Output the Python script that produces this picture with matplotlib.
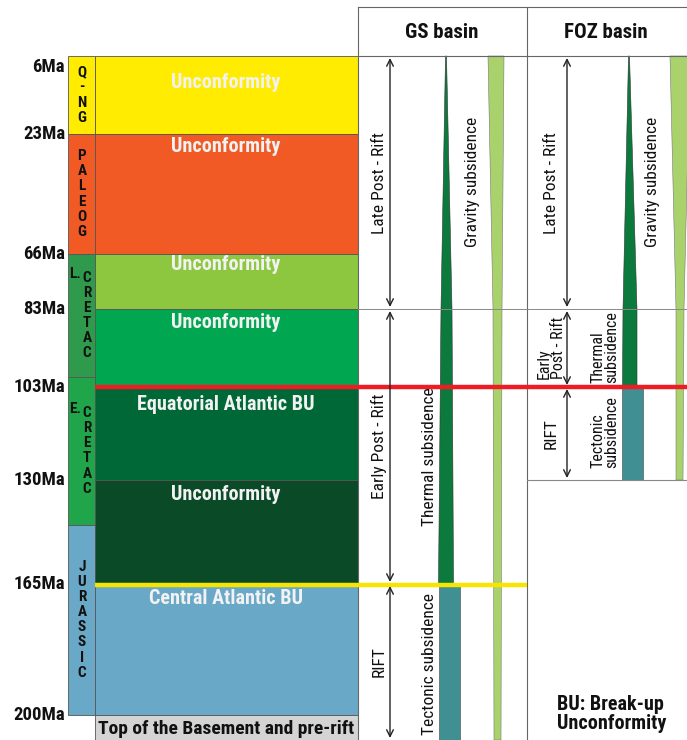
import matplotlib.pyplot as plt
from matplotlib.patches import Rectangle, Polygon
from matplotlib import font_manager
import numpy as np

# pick a narrow sans face (the chart uses an Arial Narrow look)
installed = set(f.name for f in font_manager.fontManager.ttflist)
narrow = [n for n in ['Liberation Sans Narrow', 'Arial Narrow', 'Roboto Condensed',
                      'IBM Plex Sans Condensed', 'Archivo Narrow'] if n in installed]
plt.rcParams['font.family'] = narrow[:1] + ['Liberation Sans', 'DejaVu Sans']

# ages (Ma) and the schematic row each one sits at (chart is not to scale)
ages = [6, 23, 66, 83, 103, 130, 165, 200]
age_rows = [56, 134, 254, 309, 387, 480, 584, 715]
BOTTOM = 740

# stratigraphic units
unit_top = [6, 23, 66, 83, 103, 130, 165]
unit_base = [23, 66, 83, 103, 130, 165, 200]
unit_names = ["Unconformity", "Unconformity", "Unconformity", "Unconformity",
              "Equatorial Atlantic BU", "Unconformity", "Central Atlantic BU"]
unit_colors = ["#ffec00", "#f15a24", "#8dc63f", "#00a650", "#006837", "#0b4a26", "#6aa8c8"]

# periods
period_names = ["Q-NG", "PALEOG", "CRETAC", "CRETAC", "JURASSIC"]
period_prefix = ["", "", "L.", "E.", ""]
period_top = [6, 23, 66, 100.5, 145]
period_base = [23, 66, 100.5, 145, 200]
period_colors = ["#ffec00", "#f15a24", "#2f9a4c", "#21a54b", "#6aa8c8"]

# basins: stages
gs_stages = ["Late Post - Rift", "Early Post - Rift", "RIFT"]
gs_stage_top = [6, 83, 165]
gs_stage_base = [83, 165, None]
foz_stages = ["Late Post - Rift", "Early\nPost - Rift", "RIFT"]
foz_stage_top = [6, 83, 103]
foz_stage_base = [83, 103, 130]


def to_y(a):
    if a is None:
        return BOTTOM
    return float(np.interp(a, ages, age_rows))


fig = plt.figure(figsize=(6.87, 7.40), dpi=100)
ax = fig.add_axes([0, 0, 1, 1])
ax.set_xlim(0, 687)
ax.set_ylim(740, 0)
ax.axis('off')

edge = '#555555'
ink = '#111111'

# ---- period column
lsp = 1.1
for i in range(len(period_names)):
    y0, y1 = to_y(period_top[i]), to_y(period_base[i])
    ax.add_patch(Rectangle((68, y0), 27, y1 - y0, fc=period_colors[i], ec=edge, lw=0.6))
    ym = (y0 + y1) / 2
    letters = "\n".join(period_names[i])
    if period_prefix[i]:
        ax.text(87, ym, letters, ha='center', va='center', fontsize=11,
                fontweight='bold', color=ink, linespacing=lsp)
        ax.text(69, ym - 2.5 * 16.8, period_prefix[i], ha='left', va='center', fontsize=11,
                fontweight='bold', color=ink)
    else:
        ax.text(82, ym, letters, ha='center', va='center', fontsize=11,
                fontweight='bold', color=ink, linespacing=lsp)

# ---- units column
label_pad = [26, 13, 11, 13, 18, 14, 15]
for i in range(len(unit_names)):
    y0, y1 = to_y(unit_top[i]), to_y(unit_base[i])
    ax.add_patch(Rectangle((95, y0), 263, y1 - y0, fc=unit_colors[i], ec=edge, lw=0.6))
    ax.text(226, y0 + label_pad[i], unit_names[i], ha='center', va='center',
            fontsize=14.5, fontweight='bold', color='#f2f2f2')

ax.add_patch(Rectangle((95, to_y(200)), 263, BOTTOM - to_y(200), fc='#d4d4d4', ec=edge, lw=0.6))
ax.text(226, (to_y(200) + BOTTOM) / 2 + 1, "Top of the Basement and pre-rift", ha='center',
        va='center', fontsize=14, fontweight='bold', color=ink)

# age labels
for a in ages:
    if a == ages[0]:
        ax.text(65, to_y(a) + 2, f"{a}Ma", ha='right', va='top', fontsize=13.5,
                fontweight='bold', color=ink)
    else:
        ax.text(65, to_y(a), f"{a}Ma", ha='right', va='center', fontsize=13.5,
                fontweight='bold', color=ink)

# ---- basin frame
ax.plot([358, 687], [7, 7], color='#666666', lw=0.8)
ax.plot([358, 687], [55.5, 55.5], color='#666666', lw=0.8)
ax.plot([358, 358], [7, BOTTOM], color='#666666', lw=0.8)
ax.plot([527, 527], [7, BOTTOM], color='#666666', lw=0.8)
ax.plot([358, 687], [to_y(83), to_y(83)], color='#888888', lw=0.7)
ax.plot([527, 687], [to_y(130), to_y(130)], color='#888888', lw=0.8)
ax.text(442, 33, "GS basin", ha='center', va='center', fontsize=15, fontweight='bold', color=ink)
ax.text(606, 33, "FOZ basin", ha='center', va='center', fontsize=15, fontweight='bold', color=ink)

fs_side = 12.5
fs_small = 11.5


def stage_arrows(x, tops, bases, names, label_x):
    for t, b, n in zip(tops, bases, names):
        y0, y1 = to_y(t), to_y(b)
        ax.annotate('', xy=(x, y0 + 2), xytext=(x, y1 - 2),
                    arrowprops=dict(arrowstyle='<->', color='#222222', lw=1.0,
                                    mutation_scale=12, shrinkA=0, shrinkB=0))
        ax.text(label_x, (y0 + y1) / 2, n, rotation=90, ha='center', va='center',
                fontsize=fs_small if "\n" in n else fs_side, color=ink,
                multialignment='left', linespacing=0.95)


stage_arrows(390, gs_stage_top, gs_stage_base, gs_stages, 379)
stage_arrows(567, foz_stage_top, foz_stage_base, foz_stages, 551)

# ---- subsidence shapes
dkgreen = '#0c7a3c'
ltgreen = '#a9d26d'
teal = '#3f8f93'

# GS thermal wedge
ys = [to_y(6), to_y(83), to_y(165)]
ax.add_patch(Polygon([(445.5, ys[0]), (441, ys[1]), (438.5, ys[2]),
                      (453.5, ys[2]), (452, ys[1]), (446.5, ys[0])],
                     fc=dkgreen, ec='#333333', lw=0.4))
# GS tectonic bar
ax.add_patch(Rectangle((438.5, to_y(165)), 21.5, BOTTOM - to_y(165), fc=teal, ec='#444444', lw=0.4))
# GS gravity wedge
ax.add_patch(Polygon([(488, to_y(6)), (493, to_y(83)), (494, BOTTOM),
                      (501, BOTTOM), (502, to_y(83)), (504, to_y(6))],
                     fc=ltgreen, ec='#777777', lw=0.4))

# FOZ thermal wedge
ax.add_patch(Polygon([(628.5, to_y(6)), (623, to_y(83)), (622.5, to_y(103)),
                      (637, to_y(103)), (637, to_y(83)), (629.5, to_y(6))],
                     fc=dkgreen, ec='#333333', lw=0.4))
# FOZ tectonic bar
ax.add_patch(Rectangle((622, to_y(103)), 21, to_y(130) - to_y(103), fc=teal, ec='#444444', lw=0.4))
# FOZ gravity wedge
ax.add_patch(Polygon([(670, to_y(6)), (676, to_y(83)), (676, to_y(130)),
                      (683, to_y(130)), (684, to_y(83)), (690, to_y(6))],
                     fc=ltgreen, ec='#777777', lw=0.4))

# subsidence labels
sub_kw = dict(rotation=90, ha='center', va='center', fontsize=fs_side, color=ink,
              multialignment='left', linespacing=0.95)
ax.text(429, to_y(103) + 70, "Thermal subsidence", **sub_kw)
ax.text(429, (to_y(165) + BOTTOM) / 2 + 2, "Tectonic subsidence", **sub_kw)
ax.text(473, 182, "Gravity subsidence", **sub_kw)
ax.text(652, 182, "Gravity subsidence", **sub_kw)
sub_kw['fontsize'] = fs_small
ax.text(605, (to_y(83) + to_y(103)) / 2 - 1, "Thermal\nsubsidence", **sub_kw)
ax.text(605, (to_y(103) + to_y(130)) / 2 - 1, "Tectonic\nsubsidence", **sub_kw)

# ---- break-up lines
ax.plot([95, 687], [to_y(103), to_y(103)], color='#ee1c24', lw=3.2, solid_capstyle='butt')
ax.plot([95, 527], [to_y(165) + 1, to_y(165) + 1], color='#f7e400', lw=3.2, solid_capstyle='butt')

ax.text(557, 714, "BU: Break-up\nUnconformity", ha='left', va='center', fontsize=14.5,
        fontweight='bold', color=ink, linespacing=1.05)

fig.savefig('out.png', dpi=100)
